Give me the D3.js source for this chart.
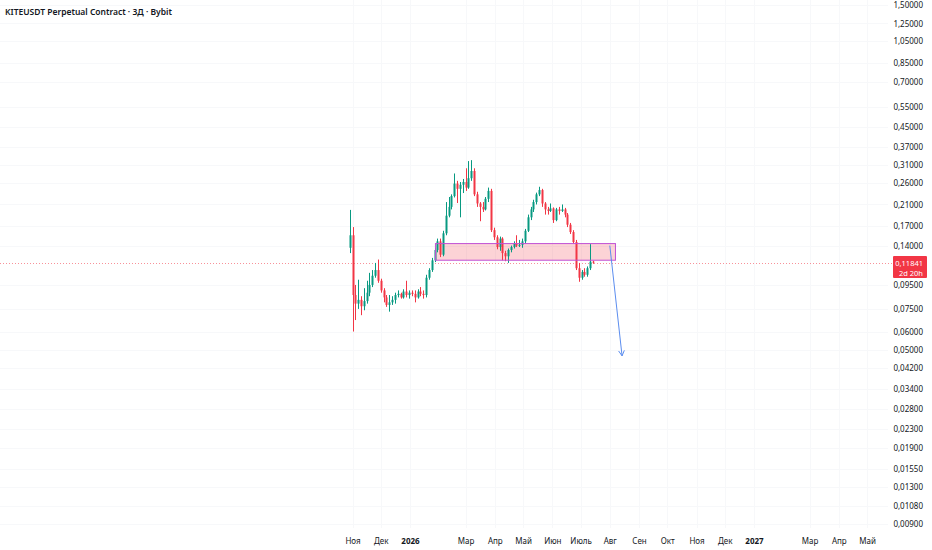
<!DOCTYPE html>
<html>
<head>
<meta charset="utf-8">
<script src="https://cdn.jsdelivr.net/npm/d3@7"></script>
<style>
  body { margin: 0; background: #fff; }
  svg { display: block; font-family: 'Noto Sans', sans-serif; }
</style>
</head>
<body>
<div id="chart"></div>
<script>
const title = 'KITEUSDT Perpetual Contract · 3Д · Bybit'

// 3-day candles, starting 29 Oct 2025
const firstCandle = new Date(2025, 9, 29)
const stepDays = 3

const opens = [0.137, 0.155, 0.086, 0.079, 0.082, 0.077, 0.081, 0.088, 0.095, 0.104,
  0.110, 0.099, 0.090, 0.084, 0.078, 0.080, 0.082, 0.086, 0.087, 0.084,
  0.089, 0.086, 0.088, 0.087, 0.084, 0.089, 0.087, 0.086, 0.102, 0.110,
  0.121, 0.134, 0.146, 0.128, 0.158, 0.188, 0.205, 0.228, 0.258, 0.245,
  0.255, 0.262, 0.248, 0.272, 0.292, 0.232, 0.212, 0.205, 0.200, 0.222,
  0.240, 0.163, 0.152, 0.138, 0.150, 0.130, 0.126, 0.134, 0.138, 0.143,
  0.140, 0.141, 0.146, 0.162, 0.185, 0.200, 0.215, 0.232, 0.242, 0.212,
  0.200, 0.197, 0.202, 0.180, 0.200, 0.197, 0.200, 0.190, 0.172, 0.160,
  0.145, 0.112, 0.102, 0.108, 0.105, 0.112, 0.1195]
const highs = [0.199, 0.168, 0.095, 0.100, 0.085, 0.092, 0.099, 0.107, 0.110, 0.118,
  0.122, 0.101, 0.092, 0.086, 0.086, 0.085, 0.088, 0.090, 0.088, 0.091,
  0.099, 0.090, 0.090, 0.090, 0.091, 0.093, 0.090, 0.105, 0.112, 0.124,
  0.137, 0.150, 0.150, 0.162, 0.215, 0.226, 0.232, 0.285, 0.265, 0.262,
  0.270, 0.300, 0.322, 0.325, 0.300, 0.238, 0.215, 0.215, 0.226, 0.248,
  0.245, 0.167, 0.155, 0.153, 0.152, 0.133, 0.136, 0.140, 0.146, 0.155,
  0.148, 0.150, 0.165, 0.190, 0.205, 0.220, 0.236, 0.250, 0.245, 0.215,
  0.205, 0.212, 0.204, 0.203, 0.205, 0.210, 0.203, 0.193, 0.175, 0.163,
  0.148, 0.118, 0.110, 0.112, 0.114, 0.142, 0.1205]
const lows = [0.130, 0.060, 0.0672, 0.075, 0.0705, 0.074, 0.079, 0.085, 0.093, 0.102,
  0.097, 0.088, 0.080, 0.0765, 0.073, 0.078, 0.079, 0.084, 0.083, 0.083,
  0.084, 0.083, 0.085, 0.080, 0.083, 0.085, 0.083, 0.084, 0.100, 0.108,
  0.119, 0.131, 0.125, 0.126, 0.155, 0.185, 0.200, 0.225, 0.213, 0.185,
  0.235, 0.240, 0.245, 0.265, 0.228, 0.205, 0.178, 0.195, 0.198, 0.215,
  0.160, 0.148, 0.135, 0.133, 0.121, 0.120, 0.118, 0.131, 0.136, 0.138,
  0.138, 0.137, 0.143, 0.160, 0.180, 0.195, 0.210, 0.228, 0.205, 0.190,
  0.190, 0.195, 0.175, 0.178, 0.190, 0.195, 0.185, 0.168, 0.157, 0.143,
  0.110, 0.098, 0.100, 0.103, 0.103, 0.110, 0.117]
const closes = [0.155, 0.086, 0.079, 0.082, 0.077, 0.081, 0.088, 0.095, 0.104, 0.110,
  0.099, 0.090, 0.084, 0.078, 0.080, 0.082, 0.086, 0.087, 0.084, 0.089,
  0.086, 0.088, 0.087, 0.084, 0.089, 0.087, 0.086, 0.102, 0.110, 0.121,
  0.134, 0.146, 0.128, 0.158, 0.188, 0.205, 0.228, 0.258, 0.245, 0.255,
  0.262, 0.248, 0.272, 0.292, 0.232, 0.212, 0.205, 0.200, 0.222, 0.240,
  0.163, 0.152, 0.138, 0.150, 0.130, 0.126, 0.134, 0.138, 0.143, 0.140,
  0.141, 0.146, 0.162, 0.185, 0.200, 0.215, 0.232, 0.242, 0.212, 0.200,
  0.197, 0.202, 0.180, 0.200, 0.197, 0.200, 0.190, 0.172, 0.160, 0.145,
  0.112, 0.102, 0.108, 0.105, 0.112, 0.1195, 0.11841]

const lastPrice = 0.11841
const countdown = '2d 20h'

// price axis ticks
const priceTicks = [1.5, 1.25, 1.05, 0.85, 0.7, 0.55, 0.45, 0.37, 0.31, 0.26, 0.21,
  0.17, 0.14, 0.095, 0.075, 0.06, 0.05, 0.042, 0.034, 0.028, 0.023, 0.019,
  0.0155, 0.013, 0.0108, 0.009]

// time axis ticks
const timeTicks = [
  new Date(2025, 10, 1), new Date(2025, 11, 1), new Date(2026, 0, 1),
  new Date(2026, 2, 1), new Date(2026, 3, 1), new Date(2026, 4, 1),
  new Date(2026, 5, 1), new Date(2026, 6, 1), new Date(2026, 7, 1),
  new Date(2026, 8, 1), new Date(2026, 9, 1), new Date(2026, 10, 1),
  new Date(2026, 11, 1), new Date(2027, 0, 1), new Date(2027, 2, 1),
  new Date(2027, 3, 1), new Date(2027, 4, 1)]
const timeLabels = ['Ноя', 'Дек', '2026', 'Мар', 'Апр', 'Май', 'Июн', 'Июль', 'Авг',
  'Сен', 'Окт', 'Ноя', 'Дек', '2027', 'Мар', 'Апр', 'Май']
const yearLabels = ['2026', '2027']

// drawings: support zone and projection arrow
const zoneDates = [new Date(2026, 0, 28), new Date(2026, 7, 7)]
const zonePrices = [0.1428, 0.1212]
const arrowDates = [new Date(2026, 7, 1), new Date(2026, 7, 14)]
const arrowPrices = [0.140, 0.0472]

const width = 932
const height = 550
const plotRight = 888

const svg = d3
  .select('#chart')
  .append('svg')
  .attr('width', width)
  .attr('height', height)

const xPositionScale = d3
  .scaleTime()
  .domain([new Date(2026, 0, 1), new Date(2027, 0, 1)])
  .range([410, 754])

const yPositionScale = d3
  .scaleLog()
  .domain([0.009, 1.5])
  .range([524, 5])

const candles = closes.map(function(c, i) {
  return {
    date: d3.timeDay.offset(firstCandle, i * stepDays),
    open: opens[i],
    high: highs[i],
    low: lows[i],
    close: c
  }
})

const fmt = d => d3.format('.5f')(d).replace('.', ',')

// grid (very faint)
svg
  .append('g')
  .selectAll('line')
  .data(priceTicks)
  .enter()
  .append('line')
  .attr('x1', 0)
  .attr('x2', plotRight)
  .attr('y1', d => Math.round(yPositionScale(d)) + 0.5)
  .attr('y2', d => Math.round(yPositionScale(d)) + 0.5)
  .attr('stroke', '#f7f8fa')

svg
  .append('g')
  .selectAll('line')
  .data(timeTicks)
  .enter()
  .append('line')
  .attr('x1', d => Math.round(xPositionScale(d)) + 0.5)
  .attr('x2', d => Math.round(xPositionScale(d)) + 0.5)
  .attr('y1', 0)
  .attr('y2', 528)
  .attr('stroke', '#f7f8fa')

// last price dotted line
svg
  .append('line')
  .attr('x1', 0)
  .attr('x2', plotRight + 5)
  .attr('y1', Math.round(yPositionScale(lastPrice)) + 0.5)
  .attr('y2', Math.round(yPositionScale(lastPrice)) + 0.5)
  .attr('stroke', '#f23645')
  .attr('stroke-opacity', 0.55)
  .attr('stroke-dasharray', '1,2')

// zone rectangle
svg
  .append('rect')
  .attr('x', xPositionScale(zoneDates[0]))
  .attr('y', yPositionScale(zonePrices[0]))
  .attr('width', xPositionScale(zoneDates[1]) - xPositionScale(zoneDates[0]))
  .attr('height', yPositionScale(zonePrices[1]) - yPositionScale(zonePrices[0]))
  .attr('fill', 'rgba(242, 54, 69, 0.22)')

// candles
const bar = svg
  .append('g')
  .selectAll('g')
  .data(candles)
  .enter()
  .append('g')
  .attr('fill', d => (d.close >= d.open ? '#089981' : '#f23645'))
  .attr('stroke', d => (d.close >= d.open ? '#089981' : '#f23645'))

bar
  .append('line')
  .attr('x1', d => Math.round(xPositionScale(d.date)) + 0.5)
  .attr('x2', d => Math.round(xPositionScale(d.date)) + 0.5)
  .attr('y1', d => yPositionScale(d.high))
  .attr('y2', d => yPositionScale(d.low))
  .attr('stroke-width', 1)

bar
  .append('rect')
  .attr('stroke', 'none')
  .attr('x', d => Math.round(xPositionScale(d.date)) - 0.5)
  .attr('width', 2)
  .attr('y', d => yPositionScale(Math.max(d.open, d.close)))
  .attr('height', function(d) {
    return Math.max(1, yPositionScale(Math.min(d.open, d.close)) - yPositionScale(Math.max(d.open, d.close)))
  })

// zone border on top of candles
svg
  .append('rect')
  .attr('x', xPositionScale(zoneDates[0]))
  .attr('y', yPositionScale(zonePrices[0]))
  .attr('width', xPositionScale(zoneDates[1]) - xPositionScale(zoneDates[0]))
  .attr('height', yPositionScale(zonePrices[1]) - yPositionScale(zonePrices[0]))
  .attr('fill', 'none')
  .attr('stroke', '#c150d4')
  .attr('stroke-width', 1)

// arrow
const ax1 = xPositionScale(arrowDates[0])
const ay1 = yPositionScale(arrowPrices[0])
const ax2 = xPositionScale(arrowDates[1])
const ay2 = yPositionScale(arrowPrices[1])
const ang = Math.atan2(ay2 - ay1, ax2 - ax1)
const head = 6

svg
  .append('line')
  .attr('x1', ax1)
  .attr('y1', ay1)
  .attr('x2', ax2)
  .attr('y2', ay2)
  .attr('stroke', '#5b8def')
  .attr('stroke-width', 1)

svg
  .append('path')
  .attr('d', function() {
    const a1 = ang + Math.PI - 0.5
    const a2 = ang + Math.PI + 0.5
    return 'M' + (ax2 + head * Math.cos(a1)) + ',' + (ay2 + head * Math.sin(a1)) +
      'L' + ax2 + ',' + ay2 +
      'L' + (ax2 + head * Math.cos(a2)) + ',' + (ay2 + head * Math.sin(a2))
  })
  .attr('fill', 'none')
  .attr('stroke', '#5b8def')
  .attr('stroke-width', 1)

// price axis
const yAxis = d3
  .axisRight(yPositionScale)
  .tickValues(priceTicks)
  .tickFormat(fmt)
  .tickSize(0)

svg
  .append('g')
  .attr('class', 'axis y-axis')
  .attr('transform', 'translate(' + 923 + ',0)')
  .call(yAxis)
  .call(g => g.select('.domain').remove())
  .call(g =>
    g
      .selectAll('.tick text')
      .attr('x', 0)
      .attr('text-anchor', 'end')
      .attr('fill', '#131722')
      .attr('font-size', 8)
      .attr('font-family', "'Noto Sans', sans-serif")
  )

// last price label
const ly = Math.round(yPositionScale(lastPrice))
svg
  .append('rect')
  .attr('x', 893)
  .attr('y', ly - 7)
  .attr('width', 34)
  .attr('height', 22)
  .attr('rx', 1)
  .attr('fill', '#f23645')

svg
  .append('text')
  .text(fmt(lastPrice))
  .attr('x', 923)
  .attr('y', ly + 2.5)
  .attr('text-anchor', 'end')
  .attr('font-size', 7.5)
  .attr('fill', '#fff')

svg
  .append('text')
  .text(countdown)
  .attr('x', 923)
  .attr('y', ly + 12.5)
  .attr('text-anchor', 'end')
  .attr('font-size', 7.5)
  .attr('fill', '#fff')

// time axis
const xAxis = d3
  .axisBottom(xPositionScale)
  .tickValues(timeTicks)
  .tickFormat((d, i) => timeLabels[i])
  .tickSize(0)

svg
  .append('g')
  .attr('class', 'axis x-axis')
  .attr('transform', 'translate(0,535)')
  .call(xAxis)
  .call(g => g.select('.domain').remove())
  .selectAll('.tick text')
  .attr('fill', '#131722')
  .attr('font-size', 8)
  .attr('font-family', "'Noto Sans', sans-serif")
  .attr('font-weight', function() {
    return yearLabels.includes(d3.select(this).text()) ? 700 : 400
  })

// title
svg
  .append('text')
  .text(title)
  .attr('x', 5)
  .attr('y', 15)
  .attr('font-size', 8.5)
  .attr('font-weight', 600)
  .attr('fill', '#131722')
</script>
</body>
</html>
